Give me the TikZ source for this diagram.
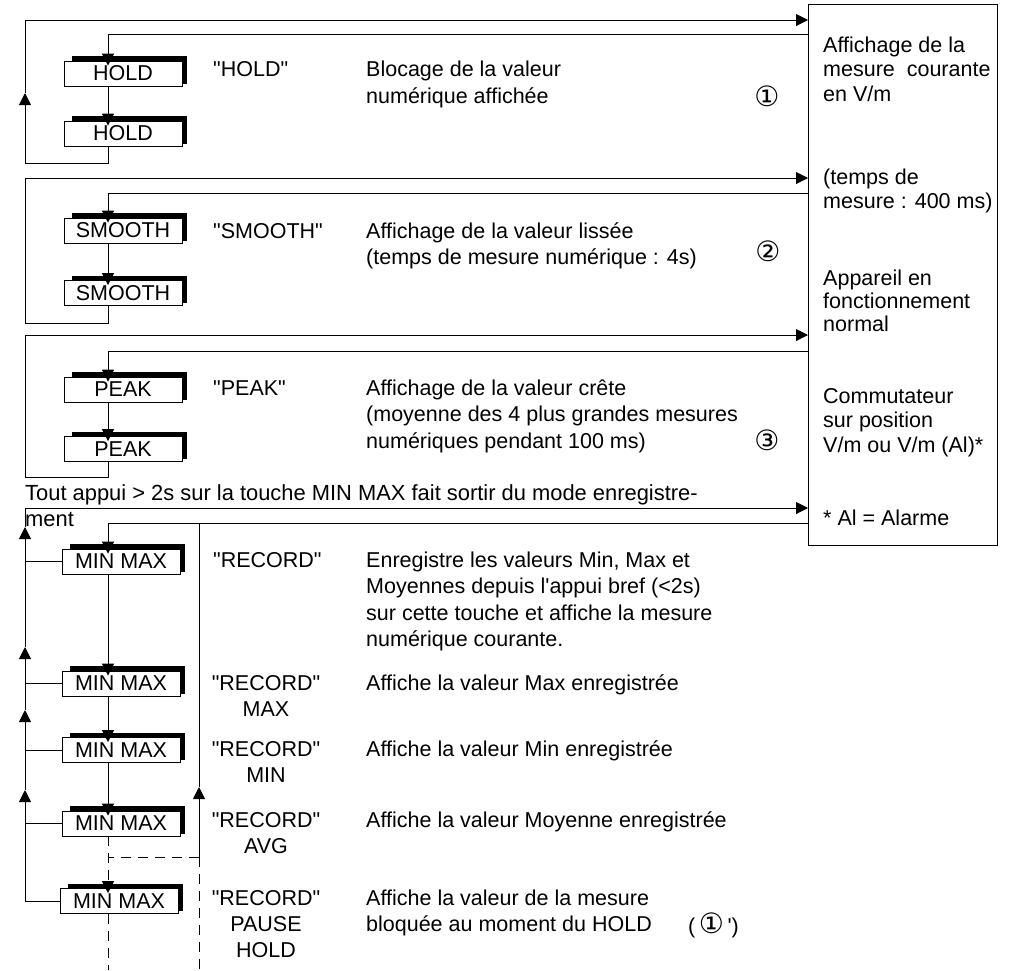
\documentclass[tikz,border=0pt]{standalone}
\usepackage{fontspec}
\setmainfont{Liberation Sans}[Ligatures=TeXOff]
\newfontfamily\circfont{DejaVu Sans}
\usetikzlibrary{arrows.meta}
\newcommand\keybox[4]{%
  \fill[black] (#2-51,#3-17.5) rectangle (#2+64,#3+10);
  \node[key] (#1) at (#2,#3) {#4};}
\begin{document}
\begin{tikzpicture}[x=1pt,y=-1pt,
  key/.style={draw,line width=0.9pt,fill=white,minimum width=118pt,minimum height=25pt,inner sep=0pt,font=\fontsize{21.5}{24}\selectfont},
  txt/.style={anchor=base west,inner sep=0pt,align=left,font=\fontsize{21.5}{26.5}\selectfont},
  sub/.style={anchor=base,inner sep=0pt,align=center,font=\fontsize{21.5}{26}\selectfont},
  rtxt/.style={anchor=base west,inner sep=0pt,align=left,font=\fontsize{21.5}{24.5}\selectfont},
  num/.style={inner sep=0pt,font=\circfont\fontsize{28}{30}\selectfont},
  conn/.style={line width=1pt},
  arr/.style={conn,-{Triangle[length=12pt,width=12pt]}},
  arrk/.style={arr,shorten >=-5pt},
  dsh/.style={dash pattern=on 10pt off 7pt}]
\useasboundingbox (0,0) rectangle (1011,970);
\coordinate (lane) at (108,0);
% display box
\node[draw,line width=1pt,anchor=north west,minimum width=189pt,minimum height=541pt,inner sep=0pt] (disp) at (808,4) {};
\node[rtxt] (r1) at (823,101) {Affichage de la\\mesure\ \ courante\\en V/m};
\node[rtxt] (r2) at (823,208.5) {(temps de\\mesure : 400 ms)};
\node[rtxt,font=\fontsize{21.5}{23}\selectfont] (r3) at (823,331) {Appareil en\\fonctionnement\\normal};
\node[rtxt] (r4) at (823,452) {Commutateur\\sur position\\V/m ou V/m (Al)*};
\node[rtxt] (r5) at (823,525) {* Al = Alarme};
% HOLD
\keybox{hold1}{123}{73.5}{HOLD}
\keybox{hold2}{123}{133.5}{HOLD}
\coordinate (hOut) at (808,20);
\coordinate (hIn) at (808,34);
\coordinate (hUp) at (25,93);
\draw[arr] (hold2.south -| lane) -- (108,163) -- (25,163) -- (hUp);
\draw[arr] (hUp) -- (25,20) -- (hOut);
\draw[arrk] (hIn) -- (108,34) -- (hold1.north -| lane);
\draw[arrk] (hold1.south -| lane) -- (hold2.north -| lane);
\node[txt] (hq) at (213,76.5) {"HOLD"};
\node[txt] (hd) at (366,103) {Blocage de la valeur\\numérique affichée};
\node[num] (n1) at (767,96) {①};
% SMOOTH
\keybox{sm1}{123}{230.5}{SMOOTH}
\keybox{sm2}{123}{293}{SMOOTH}
\coordinate (sOut) at (808,178);
\coordinate (sIn) at (808,193);
\draw[arr] (sm2.south -| lane) -- (108,323) -- (25,323) -- (25,178) -- (sOut);
\draw[arrk] (sIn) -- (108,193) -- (sm1.north -| lane);
\draw[arrk] (sm1.south -| lane) -- (sm2.north -| lane);
\node[txt] (sq) at (213,238) {"SMOOTH"};
\node[txt] (sd) at (366,264.5) {Affichage de la valeur lissée\\(temps de mesure numérique : 4s)};
\node[num] (n2) at (768,251) {②};
% PEAK
\keybox{pk1}{123}{389.5}{PEAK}
\keybox{pk2}{123}{449}{PEAK}
\coordinate (pOut) at (808,335);
\coordinate (pIn) at (808,351);
\draw[arr] (pk2.south -| lane) -- (108,477) -- (25,477) -- (25,335) -- (pOut);
\draw[arrk] (pIn) -- (108,351) -- (pk1.north -| lane);
\draw[arrk] (pk1.south -| lane) -- (pk2.north -| lane);
\node[txt] (pq) at (213,395) {"PEAK"};
\node[txt] (pd) at (366,448) {Affichage de la valeur crête\\(moyenne des 4 plus grandes mesures\\numériques pendant 100 ms)};
\node[num] (n3) at (767,440) {③};
% note
\node[txt,font=\fontsize{21.9}{26.5}\selectfont] (note) at (25,526.5) {Tout appui > 2s sur la touche MIN MAX fait sortir du mode enregistre-\\ment};
% MIN MAX
\keybox{mm1}{121}{561.5}{MIN MAX}
\keybox{mm2}{121}{683.5}{MIN MAX}
\keybox{mm3}{121}{750}{MIN MAX}
\keybox{mm4}{121}{823.5}{MIN MAX}
\keybox{mm5}{119}{901}{MIN MAX}
\coordinate (mOut) at (808,508);
\coordinate (mIn) at (808,523);
\coordinate (a1) at (25,527);
\coordinate (a2) at (25,647);
\coordinate (a3) at (25,710);
\coordinate (a4) at (25,790);
\draw[arr] (mm5.west) -- (25,901) -- (a4);
\draw[arr] (a4) -- (a3);
\draw[arr] (a3) -- (a2);
\draw[arr] (a2) -- (a1);
\draw[arr] (a1) -- (25,508) -- (mOut);
\draw[conn] (mm1.west) -- (mm1.west -| a1);
\draw[conn] (mm2.west) -- (mm2.west -| a1);
\draw[conn] (mm3.west) -- (mm3.west -| a1);
\draw[conn] (mm4.west) -- (mm4.west -| a1);
\draw[arrk] (mIn) -- (108,523) -- (mm1.north -| lane);
\draw[arrk] (mm1.south -| lane) -- (mm2.north -| lane);
\draw[arrk] (mm2.south -| lane) -- (mm3.north -| lane);
\draw[arrk] (mm3.south -| lane) -- (mm4.north -| lane);
\draw[arrk,dsh] (mm4.south -| lane) -- (mm5.north -| lane);
\coordinate (rUp) at (199,787);
\coordinate (rJ) at (199,857);
\coordinate (rTop) at (199,523);
\coordinate (rEnd) at (199,970);
\coordinate (lEnd) at (108,970);
\draw[arr] (rJ) -- (rUp);
\draw[conn] (rUp) -- (rTop);
\draw[conn,dsh] (rJ) -- (rJ -| lane);
\draw[conn,dsh] (rJ) -- (rEnd);
\draw[conn,dsh] (mm5.south -| lane) -- (lEnd);
\node[txt] (m1q) at (213,567) {"RECORD"};
\node[txt] (m1d) at (366,646.5) {Enregistre les valeurs Min, Max et\\Moyennes depuis l'appui bref (<2s)\\sur cette touche et affiche la mesure\\numérique courante.};
\node[sub] (m2q) at (266,716) {"RECORD"\\MAX};
\node[txt] (m2d) at (366,690) {Affiche la valeur Max enregistrée};
\node[sub] (m3q) at (266,782) {"RECORD"\\MIN};
\node[txt] (m3d) at (366,756) {Affiche la valeur Min enregistrée};
\node[sub] (m4q) at (266,853) {"RECORD"\\AVG};
\node[txt] (m4d) at (366,827) {Affiche la valeur Moyenne enregistrée};
\node[sub] (m5q) at (266,957) {"RECORD"\\PAUSE\\HOLD};
\node[txt] (m5d) at (366,931.5) {Affiche la valeur de la mesure\\bloquée au moment du HOLD};
\node[txt] (n1p) at (688,933) {(\,{\circfont\fontsize{28}{30}\selectfont ①}\,')};
\end{tikzpicture}
\end{document}
